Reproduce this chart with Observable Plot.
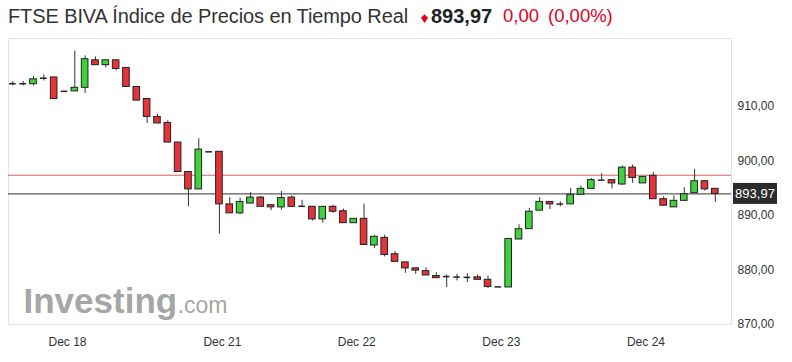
<!DOCTYPE html>
<html>
<head>
<meta charset="utf-8">
<script src="https://cdn.jsdelivr.net/npm/d3@7"></script>
<script src="https://cdn.jsdelivr.net/npm/@observablehq/plot@0.6"></script>
<style>
  body { margin: 0; background: #fff; font-family: "Liberation Sans", Arial, sans-serif; }
  #title { height: 34px; position: relative; white-space: nowrap; color: #333; }
  #title span { position: absolute; top: 5px; line-height: 22px; }
  #name { left: 8px; font-size: 20px; letter-spacing: -0.1px; }
  #icon { left: 421px; top: 7px !important; }
  #last { left: 431px; font-size: 20px; font-weight: bold; color: #222; }
  #chg { left: 503px; font-size: 18.5px; color: #e0001b; }
  #pct { left: 548px; font-size: 18.5px; color: #e0001b; }
</style>
</head>
<body>
<div id="title">
  <span id="name">FTSE BIVA Índice de Precios en Tiempo Real</span>
  <span id="icon"><svg width="7" height="9" viewBox="0 0 8 10"><polygon points="4,0 8,4 4,10 0,4" fill="#e0001b"/></svg></span>
  <span id="last">893,97</span>
  <span id="chg">0,00</span>
  <span id="pct">(0,00%)</span>
</div>
<div id="chart"></div>
<script>
// Candle data (30-min candles)
const opens  = [914.2,914.2,914.1,915.2,915.35,912.8,912.8,913.45,918.5,917.6,918.5,917.1,913.6,911.4,908.1,907.0,903.4,898.0,894.8,901.7,901.7,892.05,890.4,892.2,893.3,891.9,891.5,893.3,891.7,891.6,889.3,891.6,890.8,888.6,889.4,884.5,885.9,882.9,881.4,880.3,879.8,878.9,878.8,878.7,878.65,878.65,878.2,876.9,876.8,885.6,887.5,890.9,892.5,892.1,892.05,893.8,894.9,896.5,896.5,895.7,898.8,895.9,897.3,893.0,891.5,892.7,894.1,896.3,894.9];
const highs  = [914.6,914.6,915.5,915.8,915.35,912.8,920.2,919.3,919.1,918.5,918.5,917.1,913.6,911.4,908.6,907.4,903.4,898.0,904.1,901.7,901.7,893.3,893.2,894.2,893.5,891.9,894.4,893.6,892.8,891.6,891.6,891.9,891.2,889.4,892.1,886.4,886.4,883.4,881.4,880.3,880.4,879.5,879.1,879.2,879.3,879.1,878.9,876.9,885.7,888.3,891.3,893.3,892.5,892.5,895.0,895.4,896.8,897.7,896.5,899.1,899.3,897.1,897.9,893.45,893.6,895.1,898.5,896.3,894.9];
const lows   = [913.8,913.8,913.8,914.7,911.4,912.8,912.8,912.4,917.6,917.1,916.6,913.6,911.1,906.9,906.9,903.4,898.0,891.6,894.8,901.7,886.6,890.4,890.2,892.2,891.6,890.9,891.0,891.6,891.7,889.0,888.6,890.4,888.6,888.6,884.6,884.0,882.4,881.5,879.4,879.2,879.0,878.5,876.8,878.0,877.7,878.2,876.6,876.9,876.8,885.6,887.5,890.9,891.1,891.6,892.05,893.8,894.9,896.5,894.9,895.5,895.9,895.9,893.0,891.8,891.5,892.7,894.1,894.5,892.4];
const closes = [914.2,914.2,915.0,915.2,911.4,912.8,913.45,918.7,917.6,918.5,916.9,913.6,911.1,908.1,906.9,903.4,898.0,894.8,902.1,901.7,892.05,890.4,892.5,893.3,891.6,891.5,893.2,891.6,891.7,889.3,891.6,890.7,888.6,889.4,884.6,886.1,882.75,881.5,880.3,879.9,879.0,878.5,878.8,878.7,878.65,878.2,876.9,876.9,885.7,887.5,890.7,892.5,892.05,892.1,893.8,894.9,896.5,896.5,895.9,898.8,896.9,897.1,893.0,891.8,892.7,893.9,896.3,894.8,893.97];

// Axis ticks
const dayTickIndex = [5, 20, 33, 47, 61];
const dayTickLabels = ["Dec 18", "Dec 21", "Dec 22", "Dec 23", "Dec 24"];
const priceTicks = [870, 880, 890, 900, 910];

// Reference lines
const lastPrice = 893.97;
const prevLine = 897.4;

const candles = opens.map((o, i) => ({i, open: o, high: highs[i], low: lows[i], close: closes[i]}));
const bodies = candles.filter(d => Math.abs(d.close - d.open) >= 0.15);
const dojis = candles.filter(d => Math.abs(d.close - d.open) < 0.15);
const fmt = v => v.toFixed(2).replace(".", ",");
const GREEN = "#3fd23c", RED = "#e5333a";
const hw = 0.32;

const priceTag = (index, scales, values, dims) => {
  const yy = scales.y(lastPrice);
  const x0 = dims.width - dims.marginRight + 2;
  const g = d3.create("svg:g");
  g.append("rect").attr("x", x0).attr("y", yy - 10.5).attr("width", 44).attr("height", 21).attr("fill", "#2b2b2b");
  g.append("text").attr("x", x0 + 22).attr("y", yy).attr("dy", "0.35em").attr("text-anchor", "middle")
    .attr("fill", "#fff").attr("font-size", 13).attr("font-family", "Liberation Sans, Arial, sans-serif").text(fmt(lastPrice));
  return g.node();
};

const chart = Plot.plot({
  width: 792,
  height: 328,
  marginLeft: 8,
  marginRight: 61,
  marginTop: 4,
  marginBottom: 38,
  style: {fontFamily: "Liberation Sans, Arial, sans-serif", fontSize: "12px", color: "#333", background: "#fff"},
  x: {domain: [-0.42, 69.57], axis: null},
  y: {domain: [870, 922.5], axis: null},
  marks: [
    Plot.frame({stroke: "#e3e3e3"}),
    Plot.text(["Investing"], {frameAnchor: "bottom-left", dx: 15, dy: -12, textAnchor: "start", lineAnchor: "bottom", fontSize: 35, fontWeight: "bold", fill: "#9a9a9a", fillOpacity: 0.9, letterSpacing: -2}),
    Plot.text([".com"], {frameAnchor: "bottom-left", dx: 169, dy: -12, textAnchor: "start", lineAnchor: "bottom", fontSize: 23, fill: "#9a9a9a", fillOpacity: 0.9}),
    Plot.ruleY([prevLine], {stroke: "#e06060", strokeWidth: 1}),
    Plot.ruleY([lastPrice], {stroke: "#333", strokeWidth: 1}),
    Plot.ruleX(candles, {x: "i", y1: "low", y2: "high", stroke: "#333", strokeWidth: 1}),
    Plot.rect(bodies, {x1: d => d.i - hw, x2: d => d.i + hw, y1: "open", y2: "close", fill: d => d.close > d.open ? GREEN : RED, stroke: "#222", strokeWidth: 1}),
    Plot.ruleY(dojis, {y: "close", x1: d => d.i - hw, x2: d => d.i + hw, stroke: "#222", strokeWidth: 1.5}),
    Plot.axisY(priceTicks, {anchor: "right", tickSize: 0, tickPadding: 6, tickFormat: fmt, fontSize: 12, fill: "#333", textAnchor: "start"}),
    Plot.text(dayTickIndex, {x: d => d, text: (d, i) => dayTickLabels[i], frameAnchor: "bottom", dy: 21, dx: 3, fontSize: 12, fill: "#333"}),
    priceTag
  ]
});
document.getElementById("chart").appendChild(chart);
</script>
</body>
</html>
